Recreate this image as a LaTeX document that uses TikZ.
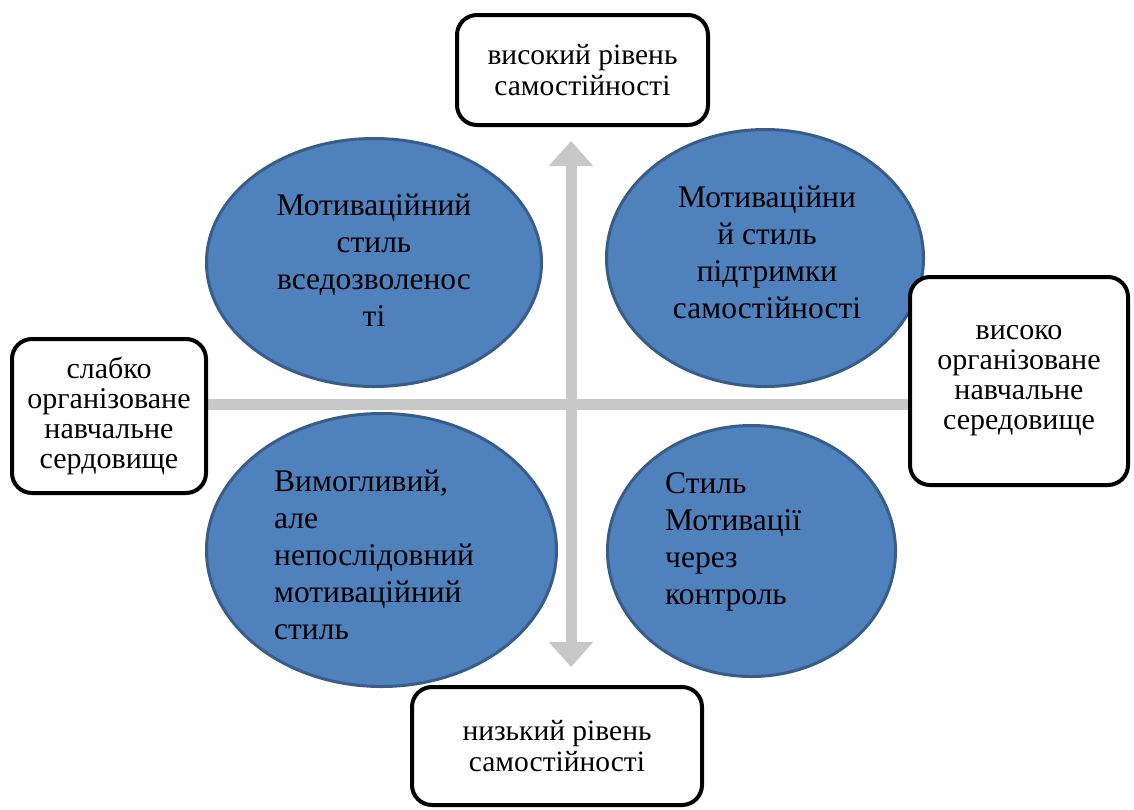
\documentclass[tikz,border=0pt]{standalone}
\usepackage{fontspec}
\setmainfont{Liberation Serif}
\usetikzlibrary{shapes.geometric,arrows.meta}
\definecolor{blobfill}{HTML}{4F81BD}
\definecolor{blobline}{HTML}{385D8A}
\definecolor{axisgray}{HTML}{C8C8C8}
\pgfdeclarelayer{background}
\pgfsetlayers{background,main}
\begin{document}
\begin{tikzpicture}[x=1pt,y=-1pt,
  blob/.style={ellipse, draw=blobline, line width=3pt, fill=blobfill, inner sep=0pt},
  etext/.style={font=\fontsize{31.5}{37}\selectfont, inner sep=0pt},
  tag/.style={draw=black, line width=4pt, rounded corners=20pt, fill=white, align=center, inner sep=0pt},
  tagfont/.style={font=\fontsize{29.5}{31}\selectfont},
  sidefont/.style={font=\fontsize{30}{30}\selectfont},
  axis/.style={draw=axisgray, line width=11pt},
  axtip/.style={{Triangle[width=43pt,length=25pt]}-{Triangle[width=43pt,length=25pt]}}
]
\useasboundingbox (0,0) rectangle (1134,809);

% ellipses
\node[blob, minimum width=335pt, minimum height=248pt] (tl) at (374,262.5) {};
\node[blob, minimum width=317pt, minimum height=257pt] (tr) at (765,258) {};
\node[blob, minimum width=350pt, minimum height=273pt] (bl) at (381.5,550) {};
\node[blob, minimum width=288pt, minimum height=251pt] (br) at (751.5,551) {};

\node[etext, align=center] (tltext) at (374,260) {Мотиваційний\\стиль\\вседозволенос\\ті};
\node[etext, align=center] (trtext) at (767,252) {Мотиваційни\\й стиль\\підтримки\\самостійності};
\node[etext, align=left, anchor=west] (bltext) at (274,555) {Вимогливий,\\але\\непослідовний\\мотиваційний\\стиль};
\node[etext, align=left, anchor=west] (brtext) at (665,542) {Стиль\\Мотивації\\через\\контроль};

% boxes
\node[tag, tagfont, minimum width=251pt, minimum height=110pt] (top) at (582.5,70) {високий рівень\\самостійності};
\node[tag, tagfont, minimum width=290pt, minimum height=118pt] (bottom) at (557,746) {низький рівень\\самостійності};
\node[tag, sidefont, minimum width=194pt, minimum height=154pt] (left) at (109,416) {слабко\\організоване\\навчальне\\сердовище};
\node[tag, sidefont, minimum width=218pt, minimum height=208pt] (right) at (1019,381) {високо\\організоване\\навчальне\\середовище};

% axes (behind everything)
\coordinate (up) at (571,141);
\coordinate (down) at (571,667);
\coordinate (hy) at (0,404);
\begin{pgfonlayer}{background}
  \fill[white] (0,0) rectangle (1134,809);
  \draw[axis] (left.east |- hy) -- (right.west |- hy);
  \draw[axis, axtip, fill=axisgray] (up) -- (down);
\end{pgfonlayer}
\end{tikzpicture}
\end{document}
